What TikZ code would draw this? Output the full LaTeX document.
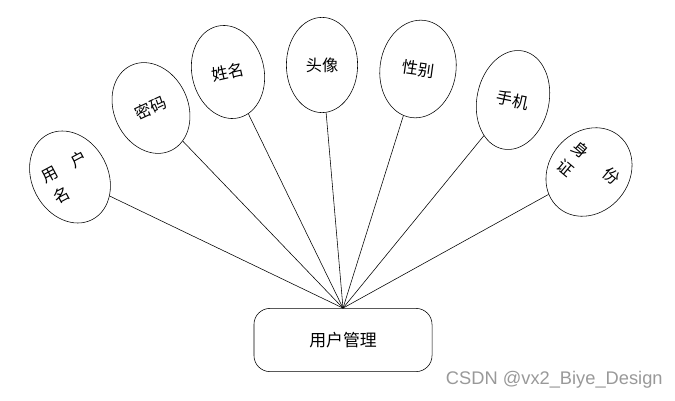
\documentclass[tikz,border=0pt]{standalone}
\usepackage{fontspec}
\setmainfont{Liberation Sans}
\newfontfamily\cjk{Noto Sans CJK SC}
\usetikzlibrary{shapes.geometric, positioning}

\begin{document}
\begin{tikzpicture}[x=0.025cm, y=-0.025cm,
            attr/.style={ellipse, draw, inner sep=0pt, align=left, font=\cjk\fontsize{11.5}{17}\selectfont},
            entity/.style={rectangle, draw, rounded corners=0.4cm, minimum width=4.45cm, minimum height=1.58cm, font=\cjk\fontsize{12}{14}\selectfont}]
            \useasboundingbox (0,0) rectangle (675,400);
            \node[entity] (box) at (343,340) {用户管理};
            \foreach \n/\x/\y/\w/\h/\r/\t in {uname/70/177/1.9cm/2.4cm/28/{用\quad 户\\名},
                                              pwd/151/108/1.85cm/2.35cm/25/{密码},
                                              name/228/72/1.8cm/2.35cm/13/{姓名},
                                              avatar/322/65/1.78cm/2.38cm/0/{头像},
                                              sex/418/69/1.9cm/2.45cm/-8/{性别},
                                              phone/513/100/1.8cm/2.5cm/-12/{手机},
                                              idcard/589/172/1.9cm/2.35cm/-40/{身\quad\enspace 份\\证}}{
                \node[attr, minimum width=\w, minimum height=\h, rotate=\r] (\n) at (\x,\y) {\t};
                \draw (box.north) -- (\n);}
            \node[text=gray!80, font=\fontsize{13}{15}\selectfont, anchor=west] (mark) at (441,380) {CSDN @vx2\_Biye\_Design};
        \end{tikzpicture}
\end{document}
